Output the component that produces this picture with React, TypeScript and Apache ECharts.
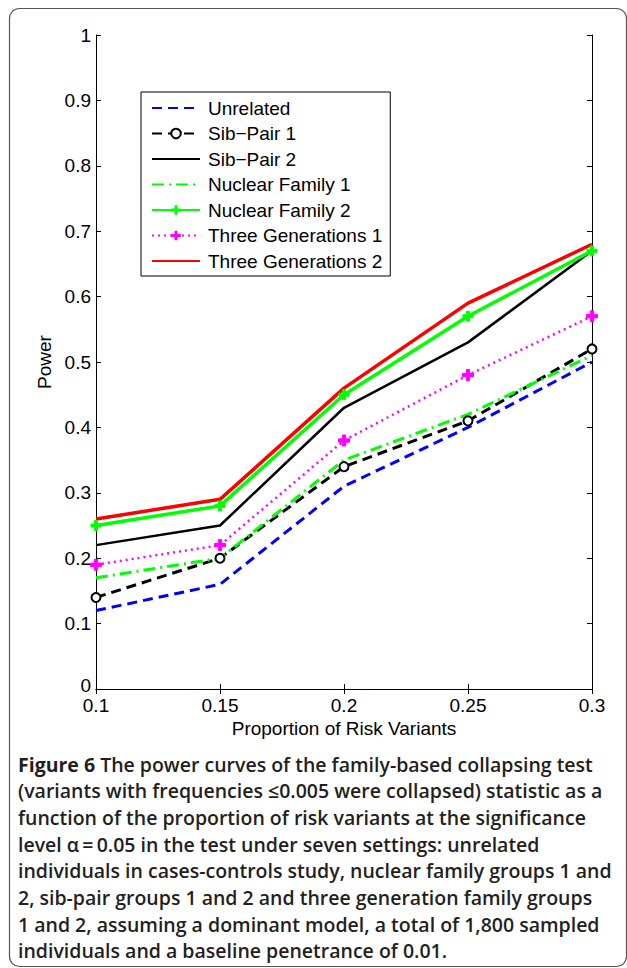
import React, { useEffect, useRef } from "react";
import * as echarts from "echarts";

const xValues = [0.1, 0.15, 0.2, 0.25, 0.3];
const unrelated = [0.12, 0.16, 0.31, 0.4, 0.5];
const sibPair1 = [0.14, 0.2, 0.34, 0.41, 0.52];
const sibPair2 = [0.22, 0.25, 0.43, 0.53, 0.67];
const nuclear1 = [0.17, 0.2, 0.35, 0.42, 0.51];
const nuclear2 = [0.25, 0.28, 0.45, 0.57, 0.67];
const threeGen1 = [0.19, 0.22, 0.38, 0.48, 0.57];
const threeGen2 = [0.26, 0.29, 0.46, 0.59, 0.68];

const seriesNames = [
  "Unrelated",
  "Sib\u2212Pair 1",
  "Sib\u2212Pair 2",
  "Nuclear Family 1",
  "Nuclear Family 2",
  "Three Generations 1",
  "Three Generations 2",
];

const captionLines = [
  "{b|Figure 6} The power curves of the family-based collapsing test",
  "(variants with frequencies \u22640.005 were collapsed) statistic as a",
  "function of the proportion of risk variants at the significance",
  "level \u03b1\u2009=\u20090.05 in the test under seven settings: unrelated",
  "individuals in cases-controls study, nuclear family groups 1 and",
  "2, sib-pair groups 1 and 2 and three generation family groups",
  "1 and 2, assuming a dominant model, a total of 1,800 sampled",
  "individuals and a baseline penetrance of 0.01.",
];

const PLUS =
  "path://M3.5,0 L6.5,0 L6.5,3.5 L10,3.5 L10,6.5 L6.5,6.5 L6.5,10 L3.5,10 L3.5,6.5 L0,6.5 L0,3.5 L3.5,3.5 Z";

const toPts = (arr: number[]) => xValues.map((x, i) => [x, arr[i]]);

export default function App() {
  const ref = useRef<HTMLDivElement>(null);
  useEffect(() => {
    document.body.style.margin = "0";
    const chart = echarts.init(ref.current!, null, { renderer: "svg" });
    const font = "Liberation Sans";
    const mk = (
      name: string,
      data: number[],
      color: string,
      width: number,
      type: any,
      symbol: string,
      symbolSize: number,
      extra: any = {}
    ) => ({
      name,
      type: "line",
      data: toPts(data),
      symbol,
      symbolSize,
      showSymbol: symbol !== "none",
      lineStyle: { color, width, type, cap: "butt" },
      itemStyle: { color, borderColor: color },
      emphasis: { disabled: true },
      z: 2,
      ...extra,
    });
    const noSym = { itemStyle: { opacity: 0 } };
    const option: any = {
      animation: false,
      backgroundColor: "#ffffff",
      grid: { left: 96, right: 35, top: 35, bottom: 279 },
      xAxis: [
        {
          type: "value",
          min: 0.1,
          max: 0.3,
          interval: 0.05,
          name: "Proportion of Risk Variants",
          nameLocation: "middle",
          nameGap: 27,
          nameTextStyle: { fontFamily: font, fontSize: 19, color: "#000" },
          axisLine: { lineStyle: { color: "#000", width: 1 } },
          axisTick: { inside: true, length: 5, lineStyle: { color: "#000" } },
          axisLabel: {
            fontFamily: font,
            fontSize: 19,
            lineHeight: 14,
            color: "#000",
            margin: 9,
          },
          splitLine: { show: false },
        },
        {
          type: "value",
          position: "top",
          min: 0.1,
          max: 0.3,
          interval: 0.05,
          axisLine: { lineStyle: { color: "#000", width: 1 } },
          axisTick: { inside: true, length: 5, lineStyle: { color: "#000" } },
          axisLabel: { show: false },
          splitLine: { show: false },
        },
      ],
      yAxis: [
        {
          type: "value",
          min: 0,
          max: 1,
          interval: 0.1,
          name: "Power",
          nameLocation: "middle",
          nameGap: 42,
          nameTextStyle: { fontFamily: font, fontSize: 19, color: "#000" },
          axisLine: { lineStyle: { color: "#000", width: 1 } },
          axisTick: { inside: true, length: 5, lineStyle: { color: "#000" } },
          axisLabel: {
            fontFamily: font,
            fontSize: 19,
            lineHeight: 14,
            color: "#000",
            margin: 5,
            formatter: (v: number) =>
              v === 0 ? "{z|0}" : String(Math.round(v * 10) / 10),
            rich: {
              z: {
                fontFamily: font,
                fontSize: 19,
                lineHeight: 14,
                color: "#000",
                padding: [0, 0, 7, 0],
              },
            },
          },
          splitLine: { show: false },
        },
        {
          type: "value",
          position: "right",
          min: 0,
          max: 1,
          interval: 0.1,
          axisLine: { lineStyle: { color: "#000", width: 1 } },
          axisTick: { inside: true, length: 5, lineStyle: { color: "#000" } },
          axisLabel: { show: false },
          splitLine: { show: false },
        },
      ],
      legend: {
        orient: "vertical",
        left: 141,
        top: 92,
        padding: [6, 8, 5, 10],
        itemGap: 5.5,
        itemWidth: 48,
        itemHeight: 12,
        backgroundColor: "#fff",
        borderColor: "#000",
        borderWidth: 1,
        borderRadius: 0,
        textStyle: {
          fontFamily: font,
          fontSize: 19,
          color: "#000",
          lineHeight: 20,
          padding: [0, 0, 0, 3],
        },
        data: [
          { name: seriesNames[0], ...noSym },
          { name: seriesNames[1] },
          { name: seriesNames[2], ...noSym },
          { name: seriesNames[3], ...noSym },
          { name: seriesNames[4] },
          { name: seriesNames[5] },
          { name: seriesNames[6], ...noSym },
        ],
      },
      series: [
        mk(seriesNames[0], unrelated, "#0000ff", 3, [10, 6], "none", 0),
        mk(seriesNames[1], sibPair1, "#000000", 3, [10, 6], "emptyCircle", 9, {
          itemStyle: { color: "#000", borderColor: "#000", borderWidth: 2.5 },
        }),
        mk(seriesNames[2], sibPair2, "#000000", 2.5, "solid", "none", 0),
        mk(seriesNames[3], nuclear1, "#00ff00", 3, [12, 5, 2, 5], "none", 0),
        mk(seriesNames[4], nuclear2, "#00ff00", 3.5, "solid", PLUS, 10),
        mk(seriesNames[5], threeGen1, "#ff00ff", 2.5, [2, 4], PLUS, 11),
        mk(seriesNames[6], threeGen2, "#ff0000", 3.5, "solid", "none", 0),
      ],
      graphic: [
        {
          type: "rect",
          silent: true,
          shape: { x: 9.5, y: 8.5, width: 617, height: 958, r: 10 },
          style: { fill: "none", stroke: "#555", lineWidth: 1.2 },
          z: 0,
        },
        ...captionLines.map((t, i) => ({
          type: "text",
          silent: true,
          x: 18,
          y: 764 + i * 26.67,
          style: {
            text: t,
            verticalAlign: "middle",
            fontFamily: "Open Sans",
            fontWeight: 600,
            fontSize: 19.5,
            fill: "#231f20",
            rich: {
              b: {
                fontFamily: "Open Sans",
                fontWeight: 700,
                fontSize: 19.5,
                fill: "#231f20",
              },
            },
          },
        })),
      ],
    };
    chart.setOption(option);
    return () => chart.dispose();
  }, []);
  return (
    <div
      ref={ref}
      style={{ position: "fixed", left: 0, top: 0, width: 627, height: 968 }}
    />
  );
}
